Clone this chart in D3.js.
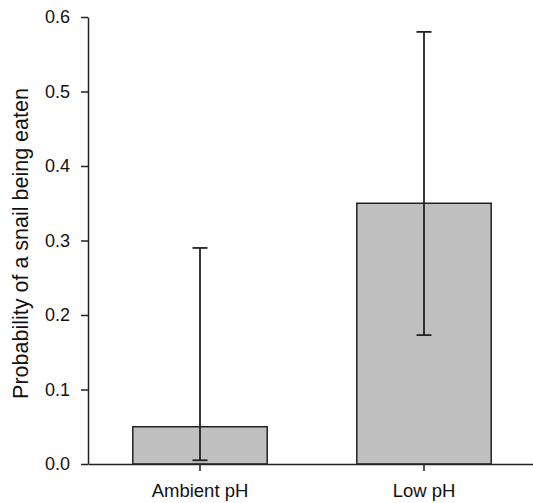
<!DOCTYPE html>
<html>
<head>
<meta charset="utf-8">
<script src="https://cdn.jsdelivr.net/npm/d3@7"></script>
<style>
  body { margin: 0; background: #fff; }
  text { font-family: "Liberation Sans", Arial, sans-serif; fill: #111; }
</style>
</head>
<body>
<script>
// data
const categories = ['Ambient pH', 'Low pH'];
const probabilities = [0.05, 0.35];
const lowerCI = [0.005, 0.173];
const upperCI = [0.29, 0.58];
const yTicks = [0.0, 0.1, 0.2, 0.3, 0.4, 0.5, 0.6];

const W = 533, H = 503;
const M = { left: 88, right: -3, top: 17, bottom: 39 };
const innerW = W - M.left - M.right;
const innerH = H - M.top - M.bottom;

const svg = d3.select('body').append('svg')
    .attr('width', W)
    .attr('height', H);

const g = svg.append('g')
    .attr('transform', `translate(${M.left},${M.top})`);

const x = d3.scaleBand()
    .domain(categories)
    .range([0, innerW])
    .paddingInner(0.4)
    .paddingOuter(0.2);

const y = d3.scaleLinear()
    .domain([0, 0.6])
    .range([innerH, 0]);

const rows = categories.map((c, i) => ({
    cat: c, p: probabilities[i], lo: lowerCI[i], hi: upperCI[i]
}));

// bars
g.append('g').selectAll('rect')
    .data(rows)
    .join('rect')
        .attr('x', d => x(d.cat))
        .attr('y', d => y(d.p))
        .attr('width', x.bandwidth())
        .attr('height', d => y(0) - y(d.p))
        .attr('fill', '#c0c0c0')
        .attr('stroke', '#222')
        .attr('stroke-width', 1.5);

// error bars
const err = g.append('g')
    .attr('stroke', '#222')
    .attr('stroke-width', 1.8);
const capW = 7.5;
rows.forEach(d => {
    const cx = x(d.cat) + x.bandwidth() / 2;
    err.append('line')
        .attr('x1', cx).attr('x2', cx)
        .attr('y1', y(d.lo)).attr('y2', y(d.hi));
    [d.lo, d.hi].forEach(v => {
        err.append('line')
            .attr('x1', cx - capW).attr('x2', cx + capW)
            .attr('y1', y(v)).attr('y2', y(v));
    });
});

// axes
const yAxis = d3.axisLeft(y)
    .tickValues(yTicks)
    .tickFormat(d3.format('.1f'))
    .tickSize(7)
    .tickPadding(11)
    .tickSizeOuter(0);

const xAxis = d3.axisBottom(x)
    .tickSize(7)
    .tickPadding(13)
    .tickSizeOuter(0);

const yg = g.append('g').call(yAxis);
const xg = g.append('g')
    .attr('transform', `translate(0,${innerH})`)
    .call(xAxis);

[yg, xg].forEach(a => {
    a.selectAll('path, line').attr('stroke', '#222').attr('stroke-width', 1.5);
    a.selectAll('text').attr('fill', '#111')
        .attr('font-family', '"Liberation Sans", Arial, sans-serif');
});
yg.selectAll('text').attr('font-size', 18);
xg.selectAll('text').attr('font-size', 18.5);

// y label
svg.append('text')
    .attr('transform', 'translate(27.5,243.5) rotate(-90)')
    .attr('text-anchor', 'middle')
    .attr('font-size', 21.5)
    .text('Probability of a snail being eaten');
</script>
</body>
</html>
